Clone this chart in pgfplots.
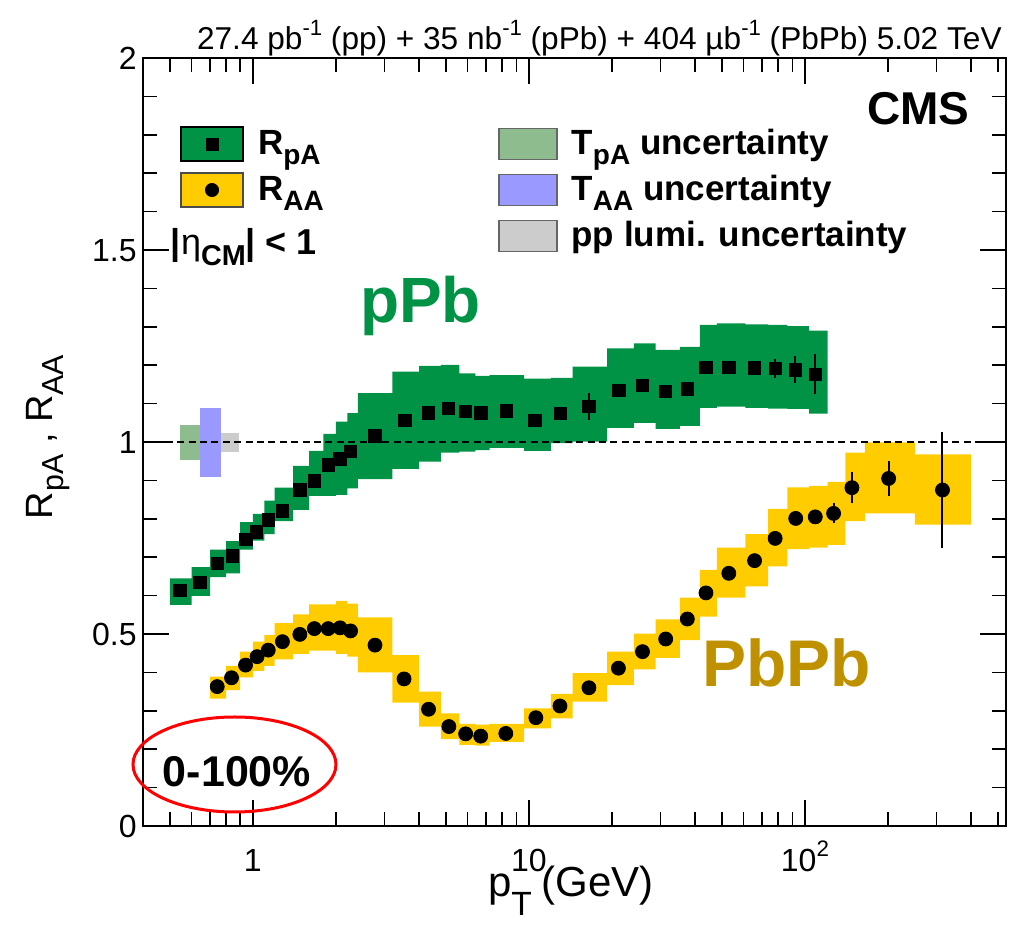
\documentclass[border=0pt]{standalone}
\usepackage{fontspec}
\setmainfont{Liberation Sans}
\usepackage{graphicx}
\usepackage{pgfplots}
\usepackage{pgfplotstable}
\pgfplotsset{compat=1.18}
\usepgfplotslibrary{fillbetween}
\definecolor{cmsgreen}{RGB}{0,146,69}
\definecolor{cmsyellow}{RGB}{255,204,0}
\definecolor{tpacol}{RGB}{143,188,143}
\definecolor{taacol}{RGB}{153,153,255}
\definecolor{lumicol}{RGB}{204,204,204}
\definecolor{pbgold}{RGB}{191,144,0}
\newcommand{\sub}[1]{\raisebox{-0.3em}{\scalebox{0.8}{#1}}}
\newcommand{\sups}[1]{\raisebox{0.45em}{\scalebox{0.7}{#1}}}

\pgfplotstableread{
x top bot
0.5 0.645 0.576
0.6 0.674 0.599
0.7 0.720 0.648
0.8 0.742 0.658
0.9 0.791 0.720
1.0 0.8125 0.743
1.1 0.847 0.760
1.2 0.881 0.794
1.4 0.938 0.823
1.6 0.977 0.860
1.8 1.021 0.860
2.0 1.053 0.862
2.2 1.075 0.879
2.4 1.127 0.903
3.2 1.183 0.930
4.0 1.198 0.949
4.8 1.201 0.972
5.6 1.179 0.975
6.4 1.172 0.979
7.2 1.174 0.985
9.6 1.165 0.977
12.0 1.167 0.997
14.4 1.196 1.001
19.2 1.244 1.037
24.0 1.257 1.050
28.8 1.240 1.034
35.2 1.248 1.042
41.6 1.305 1.089
48.0 1.309 1.092
60.8 1.306 1.089
73.6 1.305 1.087
86.4 1.302 1.086
103.6 1.290 1.074
120.8 1.290 1.074
}\pPbband

\pgfplotstableread{
x top bot
0.7 0.389 0.332
0.8 0.417 0.354
0.9 0.454 0.387
1.0 0.480 0.404
1.1 0.497 0.417
1.2 0.528 0.434
1.4 0.551 0.448
1.6 0.577 0.457
1.8 0.577 0.457
2.0 0.586 0.448
2.2 0.579 0.441
2.4 0.543 0.400
3.2 0.445 0.321
4.0 0.350 0.259
4.8 0.293 0.226
5.6 0.266 0.211
6.4 0.264 0.209
7.2 0.266 0.219
9.6 0.306 0.254
12.0 0.344 0.280
14.4 0.398 0.324
19.2 0.454 0.367
24.0 0.501 0.408
28.8 0.538 0.438
35.2 0.595 0.484
41.6 0.667 0.545
48.0 0.725 0.595
60.8 0.760 0.624
73.6 0.826 0.676
86.4 0.882 0.721
103.6 0.886 0.725
120.8 0.896 0.732
140 0.972 0.794
165 0.999 0.814
250 0.968 0.785
400 0.968 0.785
}\PbPbband

\pgfplotstableread{
x y ey
0.544 0.614 0
0.642 0.635 0
0.743 0.684 0
0.844 0.703 0
0.943 0.747 0
1.03 0.766 0
1.137 0.797 0
1.28 0.821 0
1.48 0.875 0
1.67 0.899 0
1.875 0.940 0
2.07 0.956 0
2.26 0.975 0
2.77 1.016 0
3.55 1.057 0
4.33 1.076 0
5.12 1.087 0
5.89 1.079 0
6.69 1.076 0
8.3 1.081 0
10.5 1.057 0
12.98 1.075 0
16.5 1.092 0.035
21.2 1.135 0
25.8 1.148 0
31.3 1.131 0
37.5 1.138 0
43.8 1.194 0
53.0 1.195 0
65.7 1.193 0.018
78.0 1.191 0.025
92.2 1.188 0.035
109 1.176 0.052
}\pPbpts

\pgfplotstableread{
x y ey
0.743 0.363 0
0.837 0.386 0
0.941 0.419 0
1.036 0.441 0
1.137 0.458 0
1.28 0.480 0
1.48 0.499 0
1.67 0.514 0
1.875 0.514 0
2.07 0.516 0
2.26 0.508 0
2.77 0.471 0
3.53 0.383 0
4.33 0.304 0
5.13 0.259 0
5.9 0.240 0
6.69 0.234 0
8.25 0.241 0
10.6 0.282 0
12.96 0.3125 0
16.5 0.360 0
21.1 0.411 0
25.8 0.454 0
31.3 0.487 0
37.5 0.539 0
43.8 0.607 0
53 0.658 0
65.7 0.691 0
78 0.749 0
92.6 0.801 0
109 0.805 0
127 0.814 0.026
148 0.881 0.040
201 0.905 0.045
315 0.875 0.151
}\PbPbpts

\begin{document}
\begin{tikzpicture}
\begin{axis}[
  at={(71.5pt,50.5pt)}, anchor=south west,
  scale only axis, width=431.5pt, height=384pt,
  xmode=log, xmin=0.4, xmax=535, ymin=0, ymax=2,
  xtick={1,10,100}, xticklabels={1,10,10\sups{2}},
  minor xtick={0.5,0.6,0.7,0.8,0.9,2,3,4,5,6,7,8,9,20,30,40,50,60,70,80,90,200,300,400,500},
  ytick={0,0.5,1,1.5,2}, yticklabels={0,0.5,1,1.5,2},
  minor y tick num=4,
  tick align=inside,
  major tick length=13pt, minor tick length=7pt,
  every tick/.style={black, line width=0.75pt},
  axis line style={line width=1pt},
  tick label style={font=\fontsize{16}{19}\selectfont, inner sep=0pt},
  xticklabel style={yshift=-11pt, text height=11.5pt, text depth=0pt},
  yticklabel style={xshift=-3pt, text height=11.5pt, text depth=0pt},
  legend columns=2, legend cell align=left,
  legend style={at={(axis description cs:0.0429,0.914)}, anchor=north west,
    draw=none, fill=none, inner sep=0pt, outer sep=0pt,
    row sep=3pt, column sep=7pt,
    font=\fontsize{17.5}{21}\selectfont\bfseries,
    nodes={inner sep=0pt, text height=15pt, text depth=5pt}},
]
% systematic bands
\addplot[name path=pPbup, draw=none, const plot, forget plot] table[x=x,y=top] {\pPbband};
\addplot[name path=pPblo, draw=none, const plot, forget plot] table[x=x,y=bot] {\pPbband};
\addplot[fill=cmsgreen, draw=none, forget plot] fill between[of=pPbup and pPblo];
\addplot[name path=PbPbup, draw=none, const plot, forget plot] table[x=x,y=top] {\PbPbband};
\addplot[name path=PbPblo, draw=none, const plot, forget plot] table[x=x,y=bot] {\PbPbband};
\addplot[fill=cmsyellow, draw=none, forget plot] fill between[of=PbPbup and PbPblo];
% normalisation uncertainties
\addplot[fill=tpacol, draw=none, forget plot] coordinates {(0.544,0.953) (0.642,0.953) (0.642,1.044) (0.544,1.044)} -- cycle;
\addplot[fill=taacol, draw=none, forget plot] coordinates {(0.642,0.909) (0.766,0.909) (0.766,1.088) (0.642,1.088)} -- cycle;
\addplot[fill=lumicol, draw=none, forget plot] coordinates {(0.766,0.975) (0.892,0.975) (0.892,1.023) (0.766,1.023)} -- cycle;
% unity line
\addplot[black, line width=1.4pt, dash pattern=on 3.5pt off 2.2pt, forget plot] coordinates {(0.4,1) (535,1)};
% data points
\addplot[forget plot, only marks, mark=square*, mark size=3.1pt, black, mark options={solid, fill=black, draw=black},
  error bars/.cd, y dir=both, y explicit, error mark=none, error bar style={line width=1pt, black}]
  table[x=x, y=y, y error=ey] {\pPbpts};
\addplot[forget plot, only marks, mark=*, mark size=3.5pt, black, mark options={solid, fill=black, draw=black},
  error bars/.cd, y dir=both, y explicit, error mark=none, error bar style={line width=1pt, black}]
  table[x=x, y=y, y error=ey] {\PbPbpts};
% legend
\addlegendimage{legend image code/.code={\draw[fill=cmsgreen,draw=black,line width=1pt] (0pt,-8.5pt) rectangle (31pt,8.5pt); \fill[black] (12.5pt,-3pt) rectangle (18.5pt,3pt);}}
\addlegendentry{\makebox[113pt][l]{R\sub{pA}}}
\addlegendimage{legend image code/.code={\draw[fill=tpacol,draw=black!60,line width=0.8pt] (0pt,-7.75pt) rectangle (29pt,7.75pt);}}
\addlegendentry{T\sub{pA} uncertainty}
\addlegendimage{legend image code/.code={\draw[fill=cmsyellow,draw=black!70,line width=0.8pt] (0pt,-8.5pt) rectangle (31pt,8.5pt); \fill[black] (15.5pt,0pt) circle (3.3pt);}}
\addlegendentry{\makebox[113pt][l]{R\sub{AA}}}
\addlegendimage{legend image code/.code={\draw[fill=taacol,draw=black!60,line width=0.8pt] (0pt,-7.75pt) rectangle (29pt,7.75pt);}}
\addlegendentry{T\sub{AA} uncertainty}
\addlegendimage{empty legend}
\addlegendentry{}
\addlegendimage{legend image code/.code={\draw[fill=lumicol,draw=black!60,line width=0.8pt] (0pt,-7.75pt) rectangle (29pt,7.75pt);}}
\addlegendentry{pp lumi. uncertainty}
\end{axis}
\begin{scope}[x=0.5pt, y=-0.5pt, shift={(0pt,463.5pt)}]
\node[anchor=base east, font=\fontsize{15.8}{18}\selectfont, inner sep=0pt] at (1002,50) {27.4 pb\sups{-1} (pp) + 35 nb\sups{-1} (pPb) + 404 µb\sups{-1} (PbPb) 5.02 TeV};
\node[anchor=base east, font=\fontsize{23}{26}\selectfont\bfseries, inner sep=0pt] at (970,125) {CMS};
\node[anchor=base, font=\fontsize{32}{36}\selectfont\bfseries, text=cmsgreen, inner sep=0pt] at (420.5,323) {pPb};
\node[anchor=base, font=\fontsize{33}{37}\selectfont\bfseries, text=pbgold, inner sep=0pt] at (786.5,687) {PbPb};
\node[anchor=base, font=\fontsize{21.5}{25}\selectfont\bfseries, inner sep=0pt] at (237,787) {0-100\%};
\draw[red, line width=1.5pt] (234.5,764.5) ellipse [x radius=50.75pt, y radius=23.75pt];
\node[anchor=base, font=\fontsize{18}{21}\selectfont\bfseries, inner sep=0pt] at (244,255) {|{\mdseries η}\sub{CM}| < 1};
\node[rotate=90, font=\fontsize{19}{22}\selectfont, inner sep=0pt] at (48,437) {R\sub{pA} , R\sub{AA}};
\node[anchor=base, font=\fontsize{21}{25}\selectfont, inner sep=0pt] at (571,897) {p\raisebox{-0.45em}{\scalebox{0.8}{T}}\hspace{5pt}(GeV)};
\end{scope}
\pgfresetboundingbox
\useasboundingbox (0pt,0pt) rectangle (504.5pt,463.5pt);
\end{tikzpicture}
\end{document}
